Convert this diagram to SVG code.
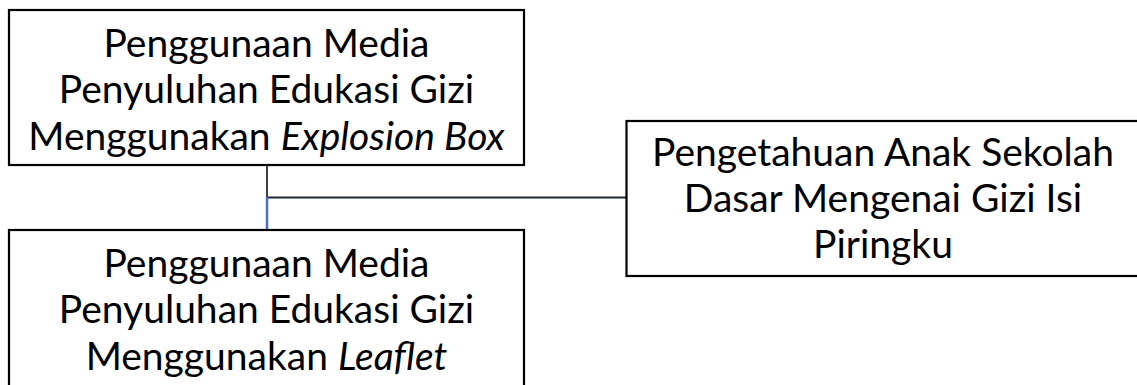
<svg xmlns="http://www.w3.org/2000/svg" width="1137" height="385" viewBox="0 0 1137 385">
<style>
.box{fill:#fff;stroke:#000;stroke-width:2.2}
.t{font-family:Lato,"Open Sans",sans-serif;font-size:39px;fill:#000;text-anchor:middle}
.i{font-style:italic}
</style>
<rect width="1137" height="385" fill="#fff"/>
<g id="connectors" fill="none">
<line x1="267" y1="165" x2="267" y2="197" stroke="#404040" stroke-width="2"/>
<line x1="267" y1="197.5" x2="626" y2="197.5" stroke="#1c2436" stroke-width="2.2"/>
<line x1="267" y1="197" x2="267" y2="230" stroke="#4472c4" stroke-width="2.5"/>
</g>
<g id="node-explosion">
<rect class="box" x="9" y="10" width="515" height="155"/>
<text class="t" x="266.5" y="57">Penggunaan Media</text>
<text class="t" x="266.5" y="103">Penyuluhan Edukasi Gizi</text>
<text class="t" x="266.5" y="150">Menggunakan <tspan class="i">Explosion Box</tspan></text>
</g>
<g id="node-leaflet">
<rect class="box" x="9" y="230" width="515" height="170"/>
<text class="t" x="266.5" y="277">Penggunaan Media</text>
<text class="t" x="266.5" y="323">Penyuluhan Edukasi Gizi</text>
<text class="t" x="266.5" y="370">Menggunakan <tspan class="i">Leaflet</tspan></text>
</g>
<g id="node-pengetahuan">
<rect class="box" x="626.5" y="121" width="520" height="155"/>
<text class="t" x="883" y="166">Pengetahuan Anak Sekolah</text>
<text class="t" x="883" y="212">Dasar Mengenai Gizi Isi</text>
<text class="t" x="883" y="258">Piringku</text>
</g>
</svg>
